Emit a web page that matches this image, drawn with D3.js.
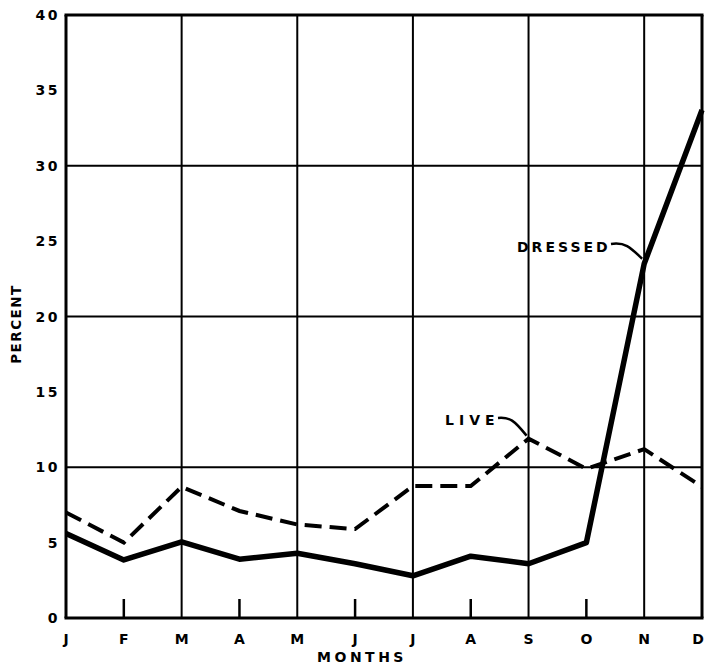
<!DOCTYPE html>
<html><head><meta charset="utf-8">
<script src="https://cdn.jsdelivr.net/npm/d3@7"></script>
<style>body{margin:0;background:#fff}svg text{font-family:"DejaVu Sans",sans-serif;font-weight:bold;fill:#000}</style>
</head><body><svg id="c" width="705" height="665"></svg>
<script>
const months = ["J","F","M","A","M","J","J","A","S","O","N","D"];
const dressed = [5.6, 3.85, 5.05, 3.9, 4.3, 3.6, 2.8, 4.1, 3.6, 5.0, 23.5, 33.7];
const live = [7.0, 5.0, 8.7, 7.1, 6.2, 5.9, 8.75, 8.75, 11.9, 9.9, 11.2, 8.7];
const yTicks = [0,5,10,15,20,25,30,35,40];
const gridY = [10,20,30];

const svg = d3.select("#c");
const L=66, R=702, T=15, B=618;
const x = d3.scaleLinear().domain([0,11]).range([L,R]);
const y = d3.scaleLinear().domain([0,40]).range([B,T]);
const idx = d3.range(months.length);

// horizontal grid
svg.selectAll(".gy").data(gridY).join("line")
  .attr("x1",L).attr("x2",R).attr("y1",d=>y(d)).attr("y2",d=>y(d))
  .attr("stroke","#000").attr("stroke-width",2);
// vertical grid (even indices full, odd short ticks)
svg.selectAll(".gx").data(idx.filter(i=>i>0 && i<11)).join("line")
  .attr("x1",i=>x(i)).attr("x2",i=>x(i))
  .attr("y1",i=>i%2===0 ? y(40) : B-19).attr("y2",B)
  .attr("stroke","#000").attr("stroke-width",i=>i%2===0?2:2.5);
// frame
svg.append("line").attr("x1",L).attr("x2",L).attr("y1",T).attr("y2",B).attr("stroke","#000").attr("stroke-width",3);
svg.append("line").attr("x1",R).attr("x2",R).attr("y1",T).attr("y2",B).attr("stroke","#000").attr("stroke-width",3);
svg.append("line").attr("x1",L-1.5).attr("x2",R+1.5).attr("y1",T).attr("y2",T).attr("stroke","#000").attr("stroke-width",3);
svg.append("line").attr("x1",L-1.5).attr("x2",R+1.5).attr("y1",B).attr("y2",B).attr("stroke","#000").attr("stroke-width",3);

// y labels
svg.selectAll(".yl").data(yTicks).join("text")
  .attr("x",L-6).attr("y",d=>y(d)).attr("dy","0.36em")
  .attr("text-anchor","end").attr("font-size",14).attr("letter-spacing",2.5)
  .text(d=>d);
// month labels
svg.selectAll(".ml").data(idx).join("text")
  .attr("x",i=>Math.min(x(i), 698)).attr("y",639).attr("dy","0.36em")
  .attr("text-anchor","middle").attr("font-size",14)
  .text(i=>months[i]);
svg.append("text").attr("x",362).attr("y",657).attr("dy","0.36em").attr("text-anchor","middle")
  .attr("font-size",14).attr("letter-spacing",3.5).text("MONTHS");
svg.append("text").attr("transform","translate(16,324) rotate(-90)").attr("dy","0.36em")
  .attr("text-anchor","middle").attr("font-size",13.5).attr("letter-spacing",1.5).text("PERCENT");

const line = d3.line().x((d,i)=>x(i)).y(d=>y(d));
svg.append("path").datum(live).attr("d",line).attr("fill","none").attr("stroke","#000")
  .attr("stroke-width",4).attr("stroke-dasharray","17,8");
svg.append("path").datum(dressed).attr("d",line).attr("fill","none").attr("stroke","#000")
  .attr("stroke-width",5.5).attr("stroke-linejoin","round");

// annotations
svg.append("text").attr("x",445).attr("y",420).attr("dy","0.36em").attr("font-size",14)
  .attr("letter-spacing",5).text("LIVE");
svg.append("path").attr("d",`M498,418 C510,417 514,420 ${x(8)-2},${y(live[8])-3}`)
  .attr("fill","none").attr("stroke","#000").attr("stroke-width",2.5);
svg.append("text").attr("x",517).attr("y",247).attr("dy","0.36em").attr("font-size",14)
  .attr("letter-spacing",3).text("DRESSED");
svg.append("path").attr("d",`M611,244 C625,242 630,247 ${x(10)-2},${y(dressed[10])-5}`)
  .attr("fill","none").attr("stroke","#000").attr("stroke-width",2.5);
</script></body></html>
